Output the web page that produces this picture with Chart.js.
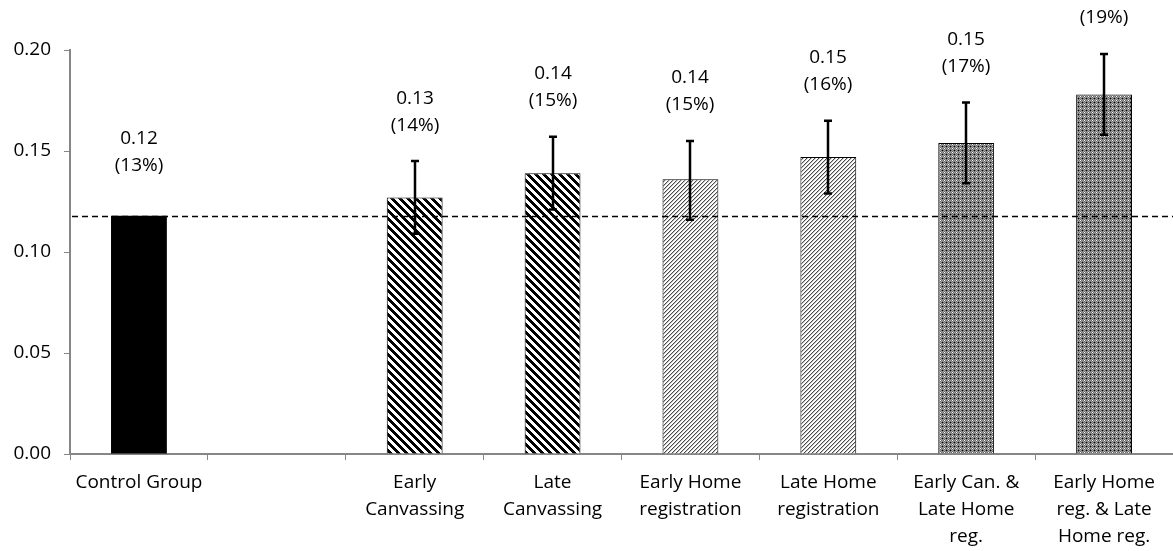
<!DOCTYPE html>
<html>
<head>
<meta charset="utf-8">
<script src="https://cdn.jsdelivr.net/npm/chart.js@4.4.1/dist/chart.umd.min.js"></script>
<style>
  html, body { margin: 0; padding: 0; background: #fff; }
  #wrap { width: 1173px; height: 551px; position: relative; }
</style>
</head>
<body>
<div id="wrap"><canvas id="turnoutChart"></canvas></div>
<script>
// categories (the empty slot is a gap in the original)
const categories = [
  ['Control Group'],
  '',
  ['Early', 'Canvassing'],
  ['Late', 'Canvassing'],
  ['Early Home', 'registration'],
  ['Late Home', 'registration'],
  ['Early Can. &', 'Late Home', 'reg.'],
  ['Early Home', 'reg. & Late', 'Home reg.']
];
const means   = [0.118, null, 0.127, 0.139, 0.136, 0.147, 0.154, 0.178];
const errLow  = [null,  null, 0.109, 0.121, 0.116, 0.129, 0.134, 0.158];
const errHigh = [null,  null, 0.145, 0.157, 0.155, 0.165, 0.174, 0.198];
const valueLabels = ['0.12', '', '0.13', '0.14', '0.14', '0.15', '0.15', '0.18'];
const pctLabels   = ['(13%)', '', '(14%)', '(15%)', '(15%)', '(16%)', '(17%)', '(19%)'];
const fillKinds   = ['solid', '', 'wide', 'wide', 'light', 'light', 'dots', 'dots'];
const controlLevel = 0.118;
const yTicks = [0, 0.05, 0.10, 0.15, 0.20];

const FONT = '"Open Sans", Lato, sans-serif';
const FSIZE = 19;
const AXIS_GREY = '#868686';

// little pixel tiles for the excel-like pattern fills
function makePattern(size, pick) {
  const c = document.createElement('canvas');
  c.width = size; c.height = size;
  const g = c.getContext('2d');
  for (let y = 0; y < size; y++) {
    for (let x = 0; x < size; x++) {
      g.fillStyle = pick(x, y);
      g.fillRect(x, y, 1, 1);
    }
  }
  return g.createPattern(c, 'repeat');
}

const ctx = document.getElementById('turnoutChart').getContext('2d');

const patterns = {
  solid: '#000000',
  wide: makePattern(8, (x, y) => (((x - y) % 8 + 8) % 8) < 4 ? '#000' : '#fff'),
  light: makePattern(4, (x, y) => {
    const k = (x + y) % 4;
    return k === 0 ? '#4a4a4a' : (k === 1 ? '#c4c4c4' : '#fff');
  }),
  dots: makePattern(4, (x, y) => {
    if (x % 4 === 0 && y % 4 === 0) return '#ffffff';
    if (x % 4 === 2 && y % 4 === 2) return '#000000';
    return (x + y) % 2 ? '#6a6a6a' : '#a4a4a4';
  })
};

// dashed reference line at control level
const controlLine = {
  id: 'controlLine',
  afterDatasetsDraw(chart) {
    const { ctx, chartArea, scales } = chart;
    const y = Math.round(scales.y.getPixelForValue(controlLevel)) + 0.5;
    ctx.save();
    ctx.strokeStyle = '#000';
    ctx.lineWidth = 1.5;
    ctx.setLineDash([6, 4]);
    ctx.beginPath();
    ctx.moveTo(chartArea.left + 2, y);
    ctx.lineTo(chartArea.right, y);
    ctx.stroke();
    ctx.restore();
  }
};

// error bars + the two-line value labels
const errorBars = {
  id: 'errorBars',
  afterDatasetsDraw(chart) {
    const { ctx, scales } = chart;
    const meta = chart.getDatasetMeta(0);
    ctx.save();
    meta.data.forEach((bar, i) => {
      if (means[i] === null) return;
      const x = Math.round(bar.x);
      if (errLow[i] !== null) {
        const yHi = scales.y.getPixelForValue(errHigh[i]);
        const yLo = scales.y.getPixelForValue(errLow[i]);
        ctx.strokeStyle = '#000';
        ctx.lineWidth = 2.5;
        ctx.beginPath();
        ctx.moveTo(x, yHi); ctx.lineTo(x, yLo);
        ctx.moveTo(x - 4, yHi); ctx.lineTo(x + 4, yHi);
        ctx.moveTo(x - 4, yLo); ctx.lineTo(x + 4, yLo);
        ctx.stroke();
      }
      let anchor, gap;
      if (errHigh[i] !== null) {
        anchor = scales.y.getPixelForValue(errHigh[i]);
        gap = 36;
      } else {
        anchor = scales.y.getPixelForValue(means[i]);
        gap = 50;
      }
      ctx.fillStyle = '#000';
      ctx.font = FSIZE + 'px ' + FONT;
      ctx.textAlign = 'center';
      ctx.textBaseline = 'middle';
      ctx.fillText(pctLabels[i], x, anchor - gap);
      ctx.fillText(valueLabels[i], x, anchor - gap - 27);
    });
    ctx.restore();
  }
};

new Chart(ctx, {
  type: 'bar',
  data: {
    labels: categories,
    datasets: [{
      data: means,
      backgroundColor: fillKinds.map(k => patterns[k] || '#fff'),
      borderColor: '#000',
      borderWidth: fillKinds.map(k => k === 'solid' ? 0 : 1),
      barPercentage: 0.405,
      categoryPercentage: 1
    }]
  },
  options: {
    responsive: true,
    maintainAspectRatio: false,
    animation: false,
    layout: { padding: { top: 50, right: 0, left: 0, bottom: 0 } },
    plugins: {
      legend: { display: false },
      tooltip: { enabled: false }
    },
    scales: {
      x: {
        grid: {
          display: true,
          drawOnChartArea: false,
          drawTicks: true,
          tickLength: 6,
          color: AXIS_GREY,
          lineWidth: 1
        },
        border: { display: true, color: AXIS_GREY, width: 2 },
        ticks: {
          color: '#000',
          font: { family: FONT, size: FSIZE, lineHeight: 27 / FSIZE },
          maxRotation: 0,
          autoSkip: false,
          padding: 9
        },
        afterFit(scale) { scale.height = 97; }
      },
      y: {
        min: 0,
        max: 0.2,
        afterBuildTicks(scale) { scale.ticks = yTicks.map(v => ({ value: v })); },
        grid: {
          display: true,
          drawOnChartArea: false,
          drawTicks: true,
          tickLength: 6,
          color: AXIS_GREY
        },
        border: { display: true, color: AXIS_GREY, width: 2 },
        ticks: {
          color: '#000',
          font: { family: FONT, size: FSIZE },
          padding: 13,
          callback: v => v.toFixed(2)
        },
        afterFit(scale) { scale.width = 70; }
      }
    }
  },
  plugins: [controlLine, errorBars]
});
</script>
</body>
</html>
